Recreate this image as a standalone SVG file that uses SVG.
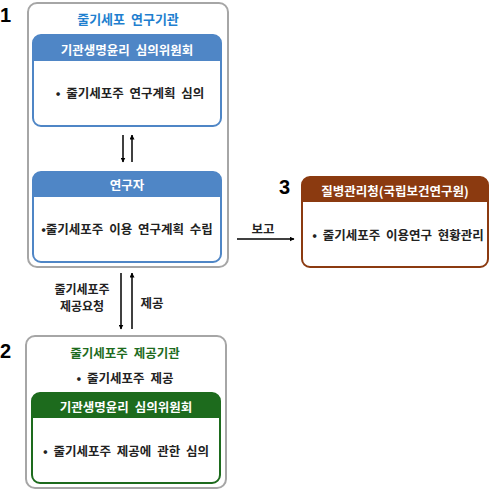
<svg xmlns="http://www.w3.org/2000/svg" width="490" height="490" viewBox="0 0 490 490">
<defs>
<marker id="ah" viewBox="0 0 10 10" refX="9" refY="5" markerWidth="5" markerHeight="5" orient="auto" markerUnits="userSpaceOnUse"><path d="M0,0 L10,5 L0,10 z" fill="#000"/></marker>
<style>
text{font-family:"Noto Sans CJK KR","Liberation Sans",sans-serif;font-weight:bold;text-anchor:middle;dominant-baseline:central;word-spacing:3px}
.outer{fill:#fff;stroke:#a6a6a6;stroke-width:2}
.num{font-family:"Liberation Sans",Arial,sans-serif;font-size:20px;fill:#000;text-anchor:start}
.t{font-size:12.5px;fill:#222}
.hw{font-size:12.5px;fill:#fff}
.line{stroke:#000;stroke-width:1.5;fill:none}
</style>
</defs>
<rect width="490" height="490" fill="#fff"/>
<g id="org1">
<rect class="outer" x="28" y="3" width="200" height="264" rx="9"/>
<text x="0" y="15" class="num">1</text>
<text x="128" y="18" style="font-size:13px;fill:#1f7fcf">줄기세포 연구기관</text>
</g>
<g id="irb1">
<rect x="33" y="35" width="188" height="91" rx="8" fill="#fff" stroke="#4f86c6" stroke-width="2"/>
<path d="M33,61 V43 a8,8 0 0 1 8,-8 H213 a8,8 0 0 1 8,8 V61 z" fill="#4f86c6"/>
<text x="127" y="49" class="hw">기관생명윤리 심의위원회</text>
<text x="130" y="92" class="t">• 줄기세포주 연구계획 심의</text>
</g>
<g id="researcher">
<rect x="33" y="172" width="188" height="90" rx="8" fill="#fff" stroke="#4f86c6" stroke-width="2"/>
<path d="M33,197 V180 a8,8 0 0 1 8,-8 H213 a8,8 0 0 1 8,8 V197 z" fill="#4f86c6"/>
<text x="127" y="184" class="hw">연구자</text>
<text x="127" y="228" class="t">•줄기세포주 이용 연구계획 수립</text>
</g>
<g id="kdca">
<rect x="302" y="177" width="186" height="90" rx="8" fill="#fff" stroke="#8b3a10" stroke-width="2"/>
<path d="M302,202 V185 a8,8 0 0 1 8,-8 H480 a8,8 0 0 1 8,8 V202 z" fill="#8b3a10"/>
<text x="279" y="187" class="num">3</text>
<text x="395" y="190" class="hw" style="word-spacing:0">질병관리청(국립보건연구원)</text>
<text x="398" y="234" class="t">• 줄기세포주 이용연구 현황관리</text>
</g>
<g id="org2">
<rect class="outer" x="26" y="336" width="200" height="152" rx="9"/>
<text x="0" y="351" class="num">2</text>
<text x="125" y="352" style="font-size:12.5px;fill:#1d6b1d">줄기세포주 제공기관</text>
<text x="125" y="377" class="t">• 줄기세포주 제공</text>
</g>
<g id="irb2">
<rect x="32" y="393" width="188" height="90" rx="8" fill="#fff" stroke="#1d6b1d" stroke-width="2"/>
<path d="M32,418 V401 a8,8 0 0 1 8,-8 H212 a8,8 0 0 1 8,8 V418 z" fill="#1d6b1d"/>
<text x="126" y="406" class="hw">기관생명윤리 심의위원회</text>
<text x="126" y="450" class="t">• 줄기세포주 제공에 관한 심의</text>
</g>
<g id="connectors">
<line class="line" x1="123" y1="135" x2="123" y2="162" marker-end="url(#ah)"/>
<line class="line" x1="132" y1="162" x2="132" y2="135" marker-end="url(#ah)"/>
<line class="line" x1="237" y1="239" x2="294" y2="239" marker-end="url(#ah)"/>
<text x="263" y="228" class="t">보고</text>
<line class="line" x1="121" y1="273" x2="121" y2="329" marker-end="url(#ah)"/>
<line class="line" x1="132" y1="329" x2="132" y2="273" marker-end="url(#ah)"/>
<text x="82" y="288" class="t" style="font-size:12px">줄기세포주</text>
<text x="82" y="305" class="t" style="font-size:12px">제공요청</text>
<text x="152" y="302" class="t">제공</text>
</g>
</svg>
